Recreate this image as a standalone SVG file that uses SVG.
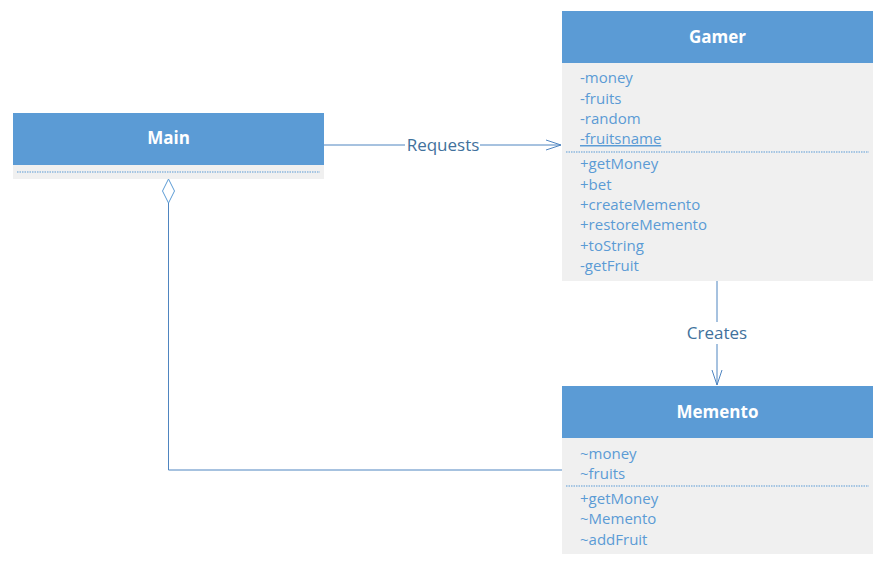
<svg xmlns="http://www.w3.org/2000/svg" width="894" height="570" viewBox="0 0 894 570">
<style>
.hdr{fill:#5b9bd5}
.body{fill:#f0f0f0}
.title{font-family:"Open Sans","Liberation Sans",Arial,sans-serif;font-size:17px;font-weight:bold;fill:#fff;text-anchor:middle}
.mem{font-family:"Open Sans","Liberation Sans",Arial,sans-serif;font-size:15px;fill:#5b9bd5}
.sep{stroke:#5b9bd5;stroke-width:1;stroke-dasharray:1.5 1}
.conn{stroke:#4f85c0;stroke-width:1;fill:none}
.lbl{font-family:"Open Sans","Liberation Sans",Arial,sans-serif;font-size:17px;fill:#41719c;text-anchor:middle}
</style>
<defs>
<marker id="open" viewBox="0 0 16 12" refX="15" refY="6" markerWidth="16" markerHeight="12" markerUnits="userSpaceOnUse" orient="auto">
<path d="M0,1 L15,6 L0,11" fill="none" stroke="#4f85c0" stroke-width="1"/>
</marker>
</defs>
<rect width="894" height="570" fill="#fff"/>
<g id="connectors">
<line class="conn" x1="324" y1="145" x2="561" y2="145" marker-end="url(#open)"/>
<rect x="405" y="135" width="75" height="20" fill="#fff"/>
<text class="lbl" x="443" y="151">Requests</text>
<line class="conn" x1="717" y1="281" x2="717" y2="385" marker-end="url(#open)"/>
<rect x="683" y="322" width="68" height="22" fill="#fff"/>
<text class="lbl" x="717" y="339">Creates</text>
<path class="conn" d="M168.5,203 V470 H562"/>
<path d="M168.5,179 L174.5,191 L168.5,203 L162.5,191 Z" fill="#fff" stroke="#5b9bd5" stroke-width="1"/>
</g>
<g id="main">
<rect class="hdr" x="13" y="113" width="311" height="52"/>
<rect class="body" x="13" y="165" width="311" height="14"/>
<line class="sep" x1="17" y1="172" x2="320" y2="172"/>
<text class="title" x="168.5" y="144">Main</text>
</g>
<g id="gamer">
<rect class="hdr" x="562" y="11" width="311" height="52"/>
<rect class="body" x="562" y="63" width="311" height="218"/>
<text class="title" x="717.5" y="43">Gamer</text>
<text class="mem" x="580" y="83">-money</text>
<text class="mem" x="580" y="104">-fruits</text>
<text class="mem" x="580" y="124">-random</text>
<text class="mem" x="580" y="144" text-decoration="underline">-fruitsname</text>
<line class="sep" x1="566" y1="152" x2="869" y2="152"/>
<text class="mem" x="580" y="169">+getMoney</text>
<text class="mem" x="580" y="190">+bet</text>
<text class="mem" x="580" y="210">+createMemento</text>
<text class="mem" x="580" y="230">+restoreMemento</text>
<text class="mem" x="580" y="251">+toString</text>
<text class="mem" x="580" y="271">-getFruit</text>
</g>
<g id="memento">
<rect class="hdr" x="562" y="386" width="311" height="52"/>
<rect class="body" x="562" y="438" width="311" height="116"/>
<text class="title" x="717.5" y="418">Memento</text>
<text class="mem" x="580" y="459">~money</text>
<text class="mem" x="580" y="479">~fruits</text>
<line class="sep" x1="566" y1="486" x2="869" y2="486"/>
<text class="mem" x="580" y="504">+getMoney</text>
<text class="mem" x="580" y="524">~Memento</text>
<text class="mem" x="580" y="545">~addFruit</text>
</g>
</svg>
